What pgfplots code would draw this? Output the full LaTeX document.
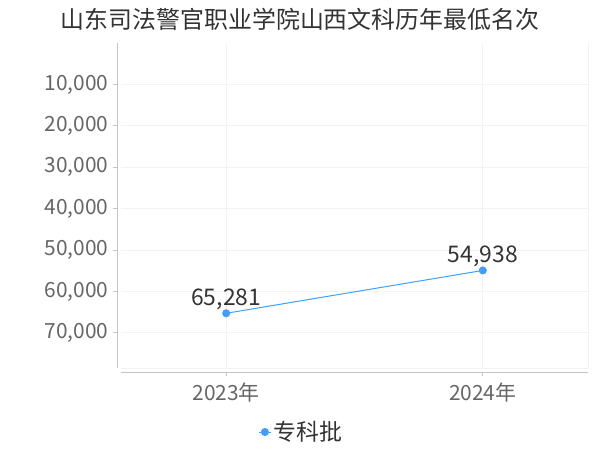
\documentclass[border=0pt]{standalone}
\usepackage{fontspec}
\setmainfont{Noto Sans CJK SC}
\usepackage{pgfplots}
\pgfplotsset{compat=1.18}

\definecolor{lineblue}{HTML}{409EFF}
\definecolor{titlegray}{HTML}{333333}
\definecolor{tickgray}{HTML}{666666}
\definecolor{axisgray}{HTML}{C4C4C4}
\definecolor{gridgray}{HTML}{F2F2F2}

\begin{document}
\begin{tikzpicture}[x=1bp,y=1bp]
\useasboundingbox (0,0) rectangle (600,450);
\node[text=titlegray, font=\fontsize{24}{28}\selectfont] at (300,431) {山东司法警官职业学院山西文科历年最低名次};
\begin{axis}[
    at={(121bp,82bp)}, anchor=south west,
    scale only axis,
    width=467bp, height=325bp,
    xmin=-0.41, xmax=1.41,
    ymin=0, ymax=78500,
    y dir=reverse,
    xtick={0,1},
    xticklabels={2023年,2024年},
    ytick={10000,20000,30000,40000,50000,60000,70000},
    /pgf/number format/assume math mode=true,
    /pgf/number format/1000 sep={,},
    scaled y ticks=false,
    axis x line*=bottom, axis y line*=left,
    axis x line shift=4bp, axis y line shift=4bp,
    axis line style={draw=axisgray, line width=0.8bp},
    tick style={draw=axisgray, line width=0.8bp},
    tick align=outside,
    major tick length=4bp,
    grid=major,
    major grid style={draw=gridgray, line width=0.8bp},
    yticklabel style={text=tickgray, font=\fontsize{21}{24}\selectfont, xshift=-1bp},
    xticklabel style={text=tickgray, font=\fontsize{21}{24}\selectfont, yshift=-3bp},
    legend style={at={(axis description cs:0.386,-0.197)}, anchor=center, draw=none, fill=none,
        font=\fontsize{23}{25}\selectfont, text=titlegray,
        legend cell align=left, inner sep=0pt},
    legend image code/.code={
        \draw[mark repeat=2, mark phase=2] plot coordinates {(0bp,0bp) (6bp,0bp) (12bp,0bp)};
    },
    clip=false,
]
\draw[gridgray, line width=0.8bp] (rel axis cs:0,0) -- (rel axis cs:1,0) -- (rel axis cs:1,1);
\addplot[
    color=lineblue, line width=1bp,
    mark=*, mark size=3.5bp, mark options={fill=lineblue, draw=lineblue},
    point meta=explicit symbolic,
    nodes near coords,
    nodes near coords style={anchor=south, text=titlegray, inner sep=0pt, yshift=3bp,
        font=\fontsize{23}{26}\selectfont},
] coordinates {
    (0,65281) [65,281]
    (1,54938) [54,938]
};
\addlegendentry{专科批}
\end{axis}
\end{tikzpicture}
\end{document}
